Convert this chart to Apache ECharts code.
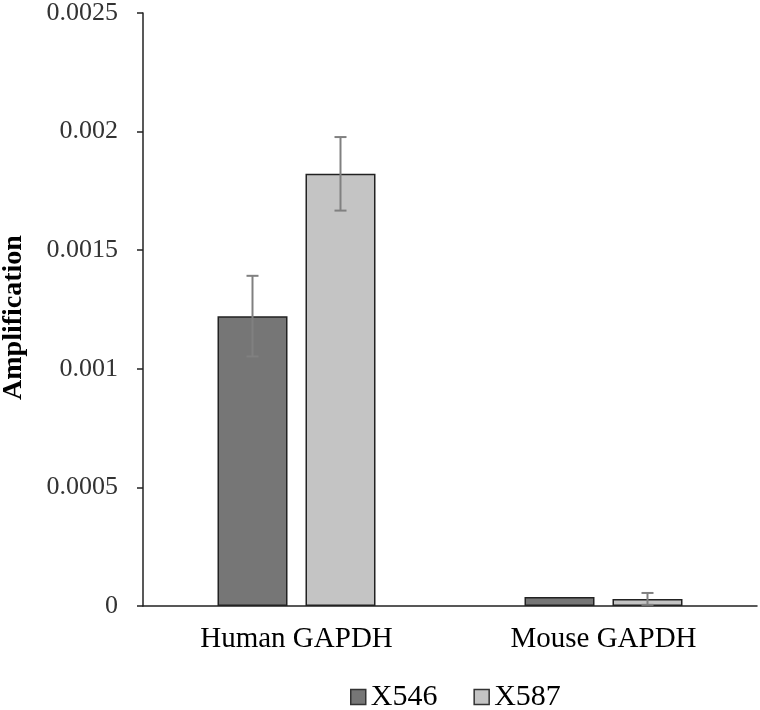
<!DOCTYPE html>
<html>
<head>
<meta charset="utf-8">
<script src="https://cdn.jsdelivr.net/npm/echarts@6/dist/echarts.min.js"></script>
<style>html,body{margin:0;padding:0;background:#fff;}#chart{width:760px;height:710px;}</style>
</head>
<body>
<div id="chart"></div>
<script>
const categories = ['Human GAPDH', 'Mouse GAPDH'];
const seriesNames = ['X546', 'X587'];
const x546 = [0.001222, 0.000038];
const x587 = [0.001822, 0.000030];
const x546Err = [0.000170, 0.000000];
const x587Err = [0.000155, 0.000025];
const yTicks = [0, 0.0005, 0.001, 0.0015, 0.002, 0.0025];

const font = '"Liberation Serif", "Times New Roman", serif';
const chart = echarts.init(document.getElementById('chart'));

function errSeries(idx, vals, errs) {
  const data = categories.map((c, i) => [i, vals[i] - errs[i], vals[i] + errs[i]]);
  return {
    type: 'custom',
    z: 10,
    silent: true,
    data: data,
    renderItem: function (params, api) {
      const ci = api.value(0);
      const lo = api.coord([ci, api.value(1)]);
      const hi = api.coord([ci, api.value(2)]);
      const barW = 70, gap = 18;
      const offset = (idx === 0 ? -1 : 1) * (barW + gap) / 2;
      const x = lo[0] + offset;
      const cap = 6;
      const style = { stroke: '#808080', lineWidth: 2 };
      if (api.value(2) - api.value(1) <= 0) return null;
      return {
        type: 'group',
        children: [
          { type: 'line', shape: { x1: x, y1: lo[1], x2: x, y2: hi[1] }, style: style },
          { type: 'line', shape: { x1: x - cap, y1: hi[1], x2: x + cap, y2: hi[1] }, style: style },
          { type: 'line', shape: { x1: x - cap, y1: lo[1], x2: x + cap, y2: lo[1] }, style: style }
        ]
      };
    }
  };
}

chart.setOption({
  animation: false,
  backgroundColor: '#fff',
  grid: { left: 143, right: 3, top: 13, bottom: 104, containLabel: false, outerBoundsMode: 'none' },
  legend: {
    top: 682,
    left: 350,
    padding: 0,
    itemWidth: 15,
    itemHeight: 15,
    itemGap: 36,
    textStyle: { fontFamily: font, fontSize: 30, color: '#000' },
    data: [
      { name: 'X546', icon: 'rect', itemStyle: { color: '#767676', borderColor: '#333', borderWidth: 1.5 } },
      { name: 'X587', icon: 'rect', itemStyle: { color: '#c4c4c4', borderColor: '#333', borderWidth: 1.5 } }
    ]
  },
  xAxis: {
    type: 'category',
    data: categories,
    axisLine: { lineStyle: { color: '#222', width: 1.5 } },
    axisTick: { show: false },
    axisLabel: { fontFamily: font, fontSize: 29, color: '#000', margin: 19 }
  },
  yAxis: {
    type: 'value',
    min: 0,
    max: 0.0025,
    interval: 0.0005,
    name: 'Amplification',
    nameLocation: 'middle',
    nameGap: 115,
    nameTextStyle: { fontFamily: font, fontSize: 28, fontWeight: 'bold', color: '#000', padding: [0, 16, 0, 0] },
    axisLine: { show: true, lineStyle: { color: '#222', width: 1.5 } },
    axisTick: { show: true, length: 6, lineStyle: { color: '#222', width: 1.5 } },
    splitLine: { show: false },
    axisLabel: {
      fontFamily: font, fontSize: 26, color: '#333', margin: 25,
      formatter: function (v) {
        const t = yTicks.find(k => Math.abs(k - v) < 1e-9);
        return t === undefined ? '' : String(t);
      }
    }
  },
  series: [
    {
      name: 'X546', type: 'bar', data: x546, barWidth: 70, barGap: '25.7%',
      itemStyle: { color: '#767676', borderColor: '#222', borderWidth: 1.5 }
    },
    {
      name: 'X587', type: 'bar', data: x587, barWidth: 70,
      itemStyle: { color: '#c4c4c4', borderColor: '#222', borderWidth: 1.5 }
    },
    errSeries(0, x546, x546Err),
    errSeries(1, x587, x587Err)
  ]
});
</script>
</body>
</html>
